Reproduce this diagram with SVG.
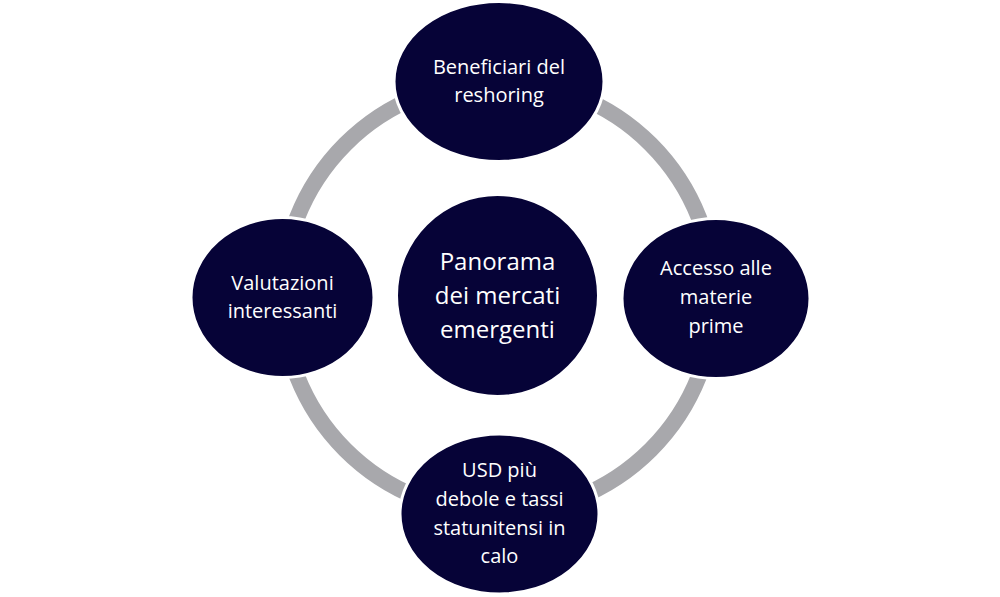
<svg xmlns="http://www.w3.org/2000/svg" width="1000" height="597" viewBox="0 0 1000 597">
<style>
.node{fill:#060337;stroke:#ffffff;stroke-width:3}
.t{fill:#ffffff;font-family:"Open Sans","Noto Sans",sans-serif;font-size:20px;text-anchor:middle}
.tc{font-size:24px}
.ring{fill:none;stroke:#A8A8AC;stroke-width:16}
</style>
<rect width="1000" height="597" fill="#ffffff"/>
<g id="connectors">
<circle class="ring" cx="498" cy="297" r="216"/>
</g>
<g id="center">
<circle class="node" cx="497.5" cy="295.5" r="101"/>
<text class="t tc" x="497.5" y="270">Panorama</text>
<text class="t tc" x="497.5" y="304">dei mercati</text>
<text class="t tc" x="497.5" y="338">emergenti</text>
</g>
<g id="top">
<ellipse class="node" cx="499" cy="81.5" rx="105" ry="80"/>
<text class="t" x="499" y="74">Beneficiari del</text>
<text class="t" x="499" y="102">reshoring</text>
</g>
<g id="right">
<ellipse class="node" cx="716" cy="298.5" rx="94" ry="80"/>
<text class="t" x="716" y="275">Accesso alle</text>
<text class="t" x="716" y="304">materie</text>
<text class="t" x="716" y="333">prime</text>
</g>
<g id="bottom">
<ellipse class="node" cx="499.5" cy="514" rx="99.5" ry="80"/>
<text class="t" x="499.5" y="477">USD più</text>
<text class="t" x="499.5" y="506">debole e tassi</text>
<text class="t" x="499.5" y="535">statunitensi in</text>
<text class="t" x="499.5" y="563">calo</text>
</g>
<g id="left">
<ellipse class="node" cx="282.5" cy="297.5" rx="91.5" ry="80"/>
<text class="t" x="282.5" y="290">Valutazioni</text>
<text class="t" x="282.5" y="318">interessanti</text>
</g>
</svg>
